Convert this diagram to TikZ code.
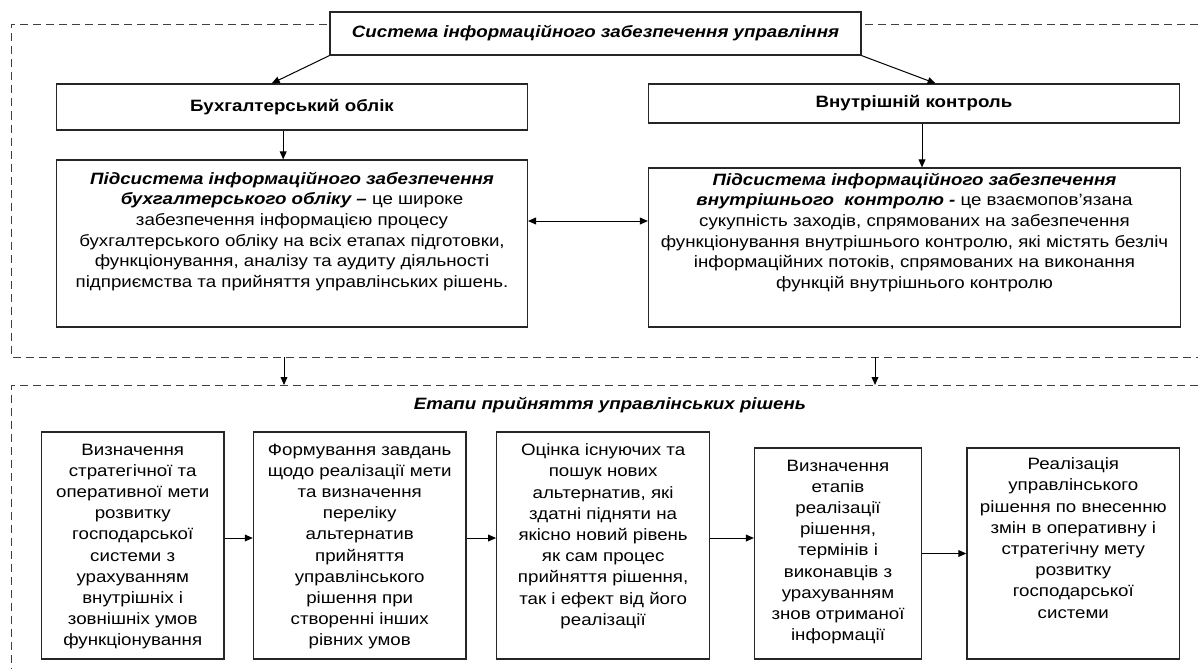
\documentclass[tikz,border=0pt]{standalone}
\usepackage{fontspec}
\setmainfont{Liberation Sans}[FakeStretch=1.14]
\usetikzlibrary{arrows.meta}
\newcommand{\bfit}[1]{\textbf{\textit{#1}}}

\begin{document}
\begin{tikzpicture}[x=0.5pt, y=-0.5pt, >={Triangle[length=4pt, width=3.4pt]},
    box/.style={rectangle, draw=black!85, line width=0.6pt, fill=white, inner sep=0pt},
    txt/.style={align=center, inner sep=0pt, font=\fontsize{8.2}{10.35}\selectfont},
    steptxt/.style={txt, font=\fontsize{8.2}{10.6}\selectfont},
    arrow/.style={->, line width=0.5pt},
    frame/.style={draw=black!75, line width=0.5pt, dash pattern=on 4pt off 2.5pt}
]
    \useasboundingbox (0,0) rectangle (1198,669);

    % dashed frames
    \draw[frame] (1198,24) -| (11.5,357) -- (1198,357);
    \draw[frame] (1198,385) -| (11.5,669);
    \coordinate (fa1) at (284,357);
    \coordinate (fa2) at (284,385);
    \coordinate (fb1) at (875,357);
    \coordinate (fb2) at (875,385);

    \node[box, txt, minimum width=265.5pt, minimum height=21.5pt] (sys) at (595.5,33.5) {\bfit{Система інформаційного забезпечення управління}};
    \node[box, txt, minimum width=235.4pt, minimum height=23pt] (acc) at (292,107) {\textbf{Бухгалтерський облік}};
    \node[box, txt, minimum width=265.7pt, minimum height=19.5pt] (ctl) at (914,103.5) {\textbf{Внутрішній контроль}};

    \node[box, minimum width=235.4pt, minimum height=83.5pt] (accsub) at (292,243.5) {};
    \node[txt, anchor=north, yshift=-6pt] (accsubtxt) at (accsub.north) {\bfit{Підсистема інформаційного забезпечення}\\
        \bfit{бухгалтерського обліку –} це широке\\ забезпечення інформацією процесу\\
        бухгалтерського обліку на всіх етапах підготовки,\\ функціонування, аналізу та аудиту діяльності\\
        підприємства та прийняття управлінських рішень.};
    \node[box, minimum width=266pt, minimum height=79.5pt] (ctlsub) at (914.5,247.5) {};
    \node[txt, anchor=north, yshift=-2.5pt] (ctlsubtxt) at (ctlsub.north) {\bfit{Підсистема інформаційного забезпечення}\\
        \bfit{внутрішнього\ \ контролю -} це взаємопов’язана\\ сукупність заходів, спрямованих на забезпечення\\
        функціонування внутрішнього контролю, які містять безліч\\ інформаційних потоків, спрямованих на виконання\\
        функцій внутрішнього контролю};

    \draw[arrow] (sys.south west) -- ([xshift=-10.15pt]acc.north);
    \draw[arrow] (sys.south east) -- ([xshift=10.8pt]ctl.north);
    \draw[arrow] ([xshift=-4.4pt]acc.south) -- ([xshift=-4.4pt]accsub.north);
    \draw[arrow] ([xshift=4pt]ctl.south) -- ([xshift=3.75pt]ctlsub.north);
    \draw[arrow, <->] ([yshift=11.25pt]accsub.east) -- ([yshift=13.25pt]ctlsub.west);
    \draw[arrow] (fa1) -- (fa2);
    \draw[arrow] (fb1) -- (fb2);

    \node[txt] (stages) at (610,405) {\bfit{Етапи прийняття управлінських рішень}};

    \node[box, minimum width=91.35pt, minimum height=113.5pt] (s1) at (132.7,545.5) {};
    \node[box, minimum width=106.35pt, minimum height=113.5pt] (s2) at (359.7,545.5) {};
    \node[box, minimum width=106.4pt, minimum height=113.5pt] (s3) at (603.1,545.5) {};
    \node[box, minimum width=83.5pt, minimum height=105.5pt] (s4) at (838,553.5) {};
    \node[box, minimum width=106.4pt, minimum height=105.5pt] (s5) at (1073.3,553.5) {};

    \node[steptxt, anchor=north, yshift=-6pt] (s1txt) at (s1.north) {Визначення\\ стратегічної та\\ оперативної мети\\ розвитку\\
        господарської\\ системи з\\ урахуванням\\ внутрішніх і\\ зовнішніх умов\\ функціонування};
    \node[steptxt, anchor=north, yshift=-6pt] (s2txt) at (s2.north) {Формування завдань\\ щодо реалізації мети\\ та визначення\\ переліку\\
        альтернатив\\ прийняття\\ управлінського\\ рішення при\\ створенні інших\\ рівних умов};
    \node[steptxt, anchor=north, yshift=-6pt] (s3txt) at (s3.north) {Оцінка існуючих та\\ пошук нових\\ альтернатив, які\\ здатні підняти на\\
        якісно новий рівень\\ як сам процес\\ прийняття рішення,\\ так і ефект від його\\ реалізації};
    \node[steptxt, anchor=north, yshift=-6pt] (s4txt) at (s4.north) {Визначення\\ етапів\\ реалізації\\ рішення,\\ термінів і\\
        виконавців з\\ урахуванням\\ знов отриманої\\ інформації};
    \node[steptxt, anchor=north, yshift=-5pt] (s5txt) at (s5.north) {Реалізація\\ управлінського\\ рішення по внесенню\\ змін в оперативну і\\
        стратегічну мету\\ розвитку\\ господарської\\ системи};

    \draw[arrow] ([yshift=3.75pt]s1.east) -- ([yshift=3.75pt]s2.west);
    \draw[arrow] ([yshift=3.75pt]s2.east) -- ([yshift=3.75pt]s3.west);
    \draw[arrow] ([yshift=3.75pt]s3.east) -- ([yshift=7.75pt]s4.west);
    \draw[arrow] (s4) -- (s5);
\end{tikzpicture}
\end{document}
